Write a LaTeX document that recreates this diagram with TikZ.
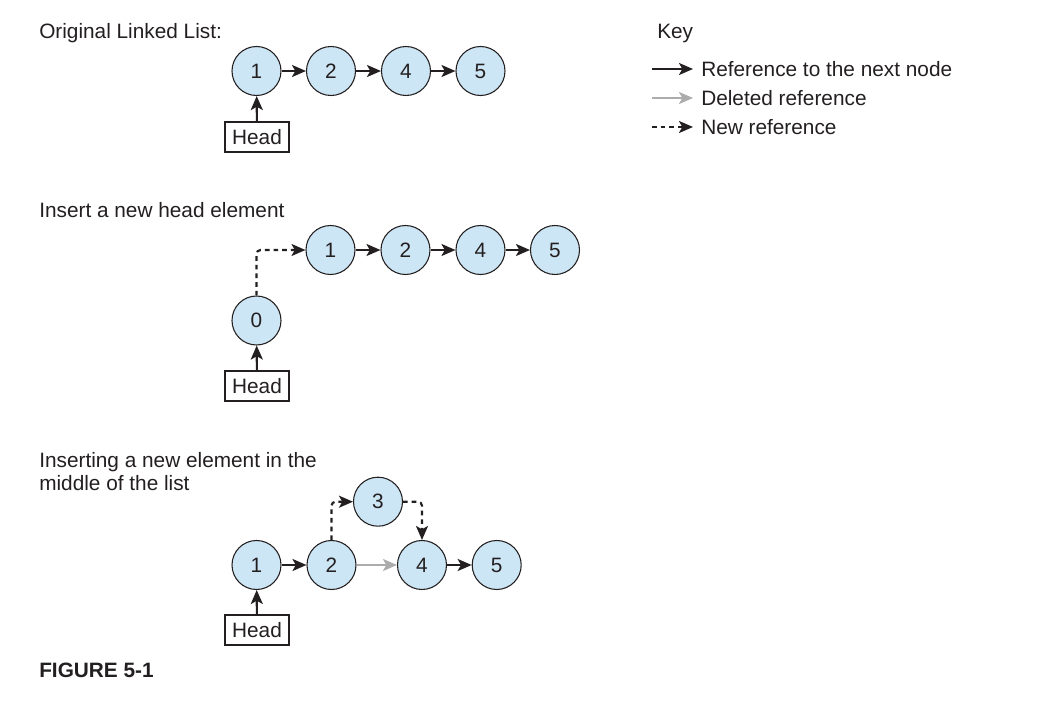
\documentclass[tikz,border=0pt]{standalone}
\usepackage{fontspec}
\setmainfont{Liberation Sans}
\usepackage{xcolor}
\usetikzlibrary{arrows.meta}
\definecolor{nodeblue}{RGB}{205,230,245}
\definecolor{inkgray}{RGB}{35,31,32}
\definecolor{delgray}{RGB}{172,172,172}
\tikzset{
  elem/.style={circle,draw=inkgray,fill=nodeblue,line width=0.8pt,minimum size=36.75pt,inner sep=0pt,text=inkgray},
  headbox/.style={draw=inkgray,line width=0.8pt,minimum width=48pt,minimum height=22.5pt,inner sep=0pt,text=inkgray},
  title/.style={anchor=base west,inner sep=0pt,text=inkgray},
  ref/.style={-{Stealth[length=10.5pt,width=9pt,inset=2.5pt]},line width=1.6pt,draw=inkgray},
  delref/.style={ref,draw=delgray},
  newref/.style={ref,dash pattern=on 3.5pt off 3pt,rounded corners=3pt}
}
\begin{document}
\begin{tikzpicture}[x=0.75pt,y=-0.75pt,font=\fontsize{15.6}{17}\selectfont]
  \useasboundingbox (0,0) rectangle (1046,702);
  % key
  \node[title] (key) at (657,39) {Key};
  \coordinate (k1a) at (652,69); \coordinate (k1b) at (693,69);
  \coordinate (k2a) at (652,98); \coordinate (k2b) at (693,98);
  \coordinate (k3a) at (652,127); \coordinate (k3b) at (693,127);
  \draw[ref] (k1a) -- (k1b);
  \draw[delref] (k2a) -- (k2b);
  \draw[newref] (k3a) -- (k3b);
  \node[title] (knext) at (701,77) {Reference to the next node};
  \node[title] (kdel) at (701,106) {Deleted reference};
  \node[title] (knew) at (701,135) {New reference};
  % original list
  \node[title] (t1) at (39,39) {Original Linked List:};
  \node[elem] (a1) at (256.5,71) {1};
  \node[elem] (a2) at (331,71) {2};
  \node[elem] (a4) at (406,71) {4};
  \node[elem] (a5) at (480.5,71) {5};
  \node[headbox] (ah) at (257,137) {Head};
  \draw[ref] (a1) -- (a2);
  \draw[ref] (a2) -- (a4);
  \draw[ref] (a4) -- (a5);
  \draw[ref] (ah) -- (a1);
  % new head
  \node[title] (t2) at (39,218) {Insert a new head element};
  \node[elem] (b1) at (330.5,250) {1};
  \node[elem] (b2) at (405.5,250) {2};
  \node[elem] (b4) at (480.5,250) {4};
  \node[elem] (b5) at (555,250) {5};
  \node[elem] (b0) at (256.5,320.5) {0};
  \node[headbox] (bh) at (257,386) {Head};
  \draw[ref] (b1) -- (b2);
  \draw[ref] (b2) -- (b4);
  \draw[ref] (b4) -- (b5);
  \draw[ref] (bh) -- (b0);
  \draw[newref] (b0) |- (b1);
  % insert in the middle
  \node[title] (t3a) at (39,467) {Inserting a new element in the};
  \node[title] (t3b) at (39,490) {middle of the list};
  \node[elem] (c1) at (256.5,565) {1};
  \node[elem] (c2) at (331.5,565) {2};
  \node[elem] (c4) at (422,565) {4};
  \node[elem] (c5) at (496.7,565) {5};
  \node[elem] (c3) at (378,501.7) {3};
  \node[headbox] (ch) at (257,630) {Head};
  \draw[ref] (c1) -- (c2);
  \draw[delref] (c2) -- (c4);
  \draw[ref] (c4) -- (c5);
  \draw[ref] (ch) -- (c1);
  \draw[newref] (c2) |- (c3);
  \draw[newref] (c3) -| (c4);
  \node[title,font=\fontsize{15.6}{17}\selectfont\bfseries] (fig) at (39,677) {FIGURE 5-1};
\end{tikzpicture}
\end{document}
